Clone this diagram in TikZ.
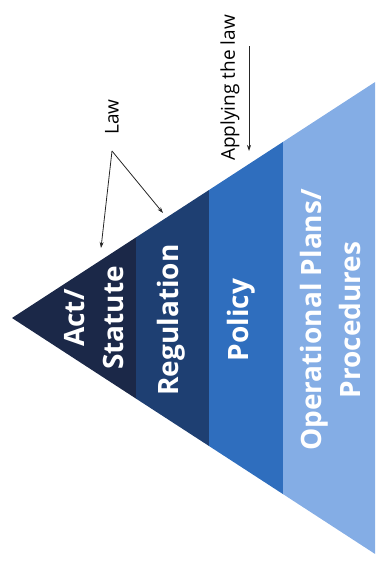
\documentclass[tikz,border=0pt]{standalone}
\usepackage{fontspec}
\setmainfont{Open Sans}
\usetikzlibrary{arrows.meta}
\definecolor{cact}{HTML}{1B2848}
\definecolor{creg}{HTML}{1E3F72}
\definecolor{cpol}{HTML}{2F6EBE}
\definecolor{cops}{HTML}{84ADE5}
\begin{document}
\begin{tikzpicture}[x=1pt,y=-1pt,
  band/.style={draw=none},
  lvl/.style={text=white,font=\fontsize{28}{39}\selectfont\bfseries,rotate=90,align=center,inner sep=0pt},
  note/.style={text=black,font=\fontsize{19}{22}\selectfont,rotate=90,inner sep=0pt},
  arr/.style={draw=black!85,line width=0.8pt,-{Stealth[length=6pt,width=4pt]}}]
\useasboundingbox (0,0) rectangle (375,565);
% pyramid bands (apex at (12,318), slope 0.65)
\fill[cact] (12,318) -- (136,237.4) -- (136,398.6) -- cycle;
\fill[creg] (136,237.4) -- (209,190.0) -- (209,446.0) -- (136,398.6) -- cycle;
\fill[cpol] (209,190.0) -- (283,141.9) -- (283,494.1) -- (209,446.0) -- cycle;
\fill[cops] (283,141.9) -- (375,82.1) -- (375,553.9) -- (283,494.1) -- cycle;
% level labels
\node[lvl] (act) at (94,318) {Act/\\Statute};
\node[lvl] (reg) at (171,320) {Regulation};
\node[lvl] (pol) at (241,320) {Policy};
\node[lvl] (ops) at (330,320) {Operational Plans/\\Procedures};
% annotations
\node[note] (law) at (112,117) {Law};
\coordinate (lawv) at (112,151);
\coordinate (lawa) at (101,248);
\coordinate (lawb) at (163,213);
\draw[arr] (lawv) -- (lawa);
\draw[arr] (lawv) -- (lawb);
\node[note] (apply) at (230,88) {Applying the law};
\coordinate (ap1) at (249,46);
\coordinate (ap2) at (249,151);
\draw[arr] (ap1) -- (ap2);
\end{tikzpicture}
\end{document}
